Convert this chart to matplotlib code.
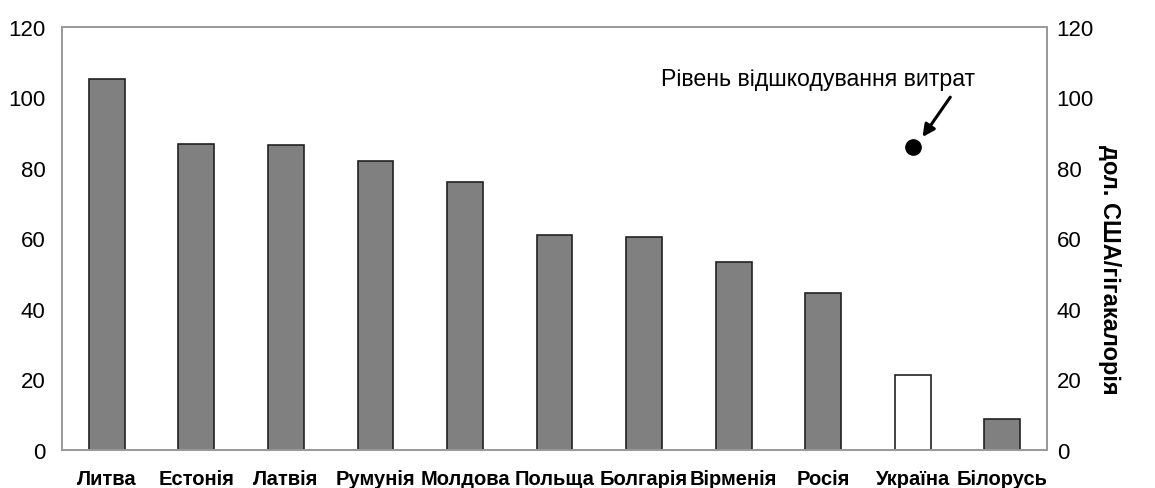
import matplotlib
matplotlib.use("Agg")
import matplotlib.pyplot as plt
import numpy as np

plt.rcParams['font.family'] = ['Liberation Sans', 'DejaVu Sans']

categories = ["Литва", "Естонія", "Латвія", "Румунія", "Молдова", "Польща",
              "Болгарія", "Вірменія", "Росія", "Україна", "Білорусь"]
values = [105.2, 86.8, 86.5, 82.0, 76.0, 61.0, 60.5, 53.3, 44.5, 21.2, 8.9]
bar_colors = ["#808080"] * 9 + ["#ffffff", "#808080"]
cost_recovery_x = "Україна"
cost_recovery_y = 86.0
annotation = "Рівень відшкодування витрат"
right_label = "дол. США/гігакалорія"
yticks = [0, 20, 40, 60, 80, 100, 120]

fig = plt.figure(figsize=(11.55, 4.89), dpi=100)
ax = fig.add_axes([62/1155, 1-451/489, (1047-62)/1155, (451-28)/489])
x = np.arange(len(categories))
ax.bar(x, values, width=0.4, color=bar_colors, edgecolor="#222222", linewidth=1.2)
ax.set_xlim(-0.5, len(categories) - 0.5)
ax.set_ylim(0, 120)
ax.set_yticks(yticks)
ax.set_xticks(x)
ax.set_xticklabels(categories, fontsize=14.5, fontweight='bold')
ax.tick_params(axis='y', length=0, labelsize=16, pad=12)
ax.tick_params(axis='x', length=0, pad=14)
for s in ax.spines.values():
    s.set_color("#999999")
    s.set_linewidth(1.2)

ax2 = ax.twinx()
ax2.set_ylim(0, 120)
ax2.set_yticks(yticks)
ax2.tick_params(axis='y', length=0, labelsize=16, pad=7)
for s in ax2.spines.values():
    s.set_color("#999999")
    s.set_linewidth(1.2)
fig.text(1110/1155, 1-270/489, right_label, rotation=-90, fontsize=17, fontweight='bold',
         ha='center', va='center')

xi = categories.index(cost_recovery_x)
ax.plot([xi], [cost_recovery_y], 'o', color='black', markersize=11, zorder=5)
ax.annotate("", xy=(xi + 0.11, 88.8), xytext=(xi + 0.42, 100.1),
            arrowprops=dict(arrowstyle='-|>', color='black', lw=2.2, mutation_scale=18,
                            shrinkA=0, shrinkB=0))
ax.text(xi - 1.06, 105.5, annotation, fontsize=16.7, ha='center', va='center')

fig.savefig("out.png", dpi=100)
